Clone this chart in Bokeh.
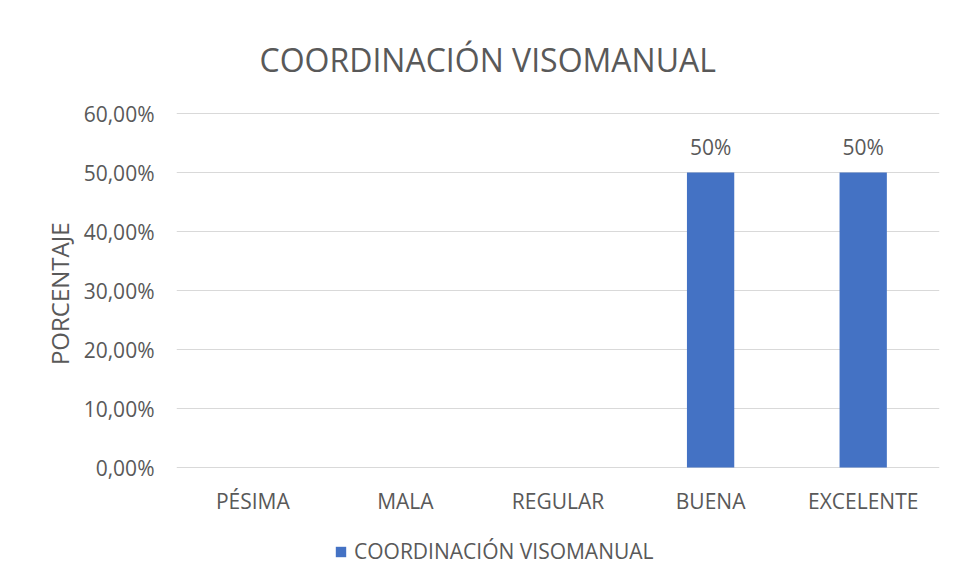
from bokeh.plotting import figure
from bokeh.models import (FactorRange, Range1d, FixedTicker, Legend, LegendItem,
                          ColumnDataSource, Title)
from bokeh.core.properties import value
from bokeh.embed import file_html
from bokeh.resources import INLINE

# ---- data ----
categories = ["PÉSIMA", "MALA", "REGULAR", "BUENA", "EXCELENTE"]
percentages = [0.0, 0.0, 0.0, 0.5, 0.5]
y_ticks = [0.0, 0.1, 0.2, 0.3, 0.4, 0.5, 0.6]
y_tick_labels = ["0,00%", "10,00%", "20,00%", "30,00%", "40,00%", "50,00%", "60,00%"]
series_name = "COORDINACIÓN VISOMANUAL"
chart_title = "COORDINACIÓN VISOMANUAL"
y_axis_title = "PORCENTAJE"

FONT = "Open Sans"
TXT = "#595959"
GRID = "#d9d9d9"
BAR = "#4472C4"

# frame extends below the value axis so the legend can live inside it
PX = 0.1 / 59.0
Y_END = 0.6 + 1 * PX
Y_START = Y_END - 458 * PX

p = figure(
    x_range=FactorRange(*categories, range_padding=0),
    y_range=Range1d(Y_START, Y_END),
    width=947, height=574,
    output_backend="svg", toolbar_location=None,
    x_axis_location=None,
    min_border_left=176, min_border_right=8,
    min_border_top=112, min_border_bottom=4,
)
p.outline_line_color = None
p.background_fill_color = "white"
p.border_fill_color = "white"

p.title.text = chart_title
p.title.align = "left"
p.title.offset = 83
p.title.vertical_align = "middle"
p.title.standoff = 62
p.title.text_font = FONT
p.title.text_font_size = "32px"
p.title.text_font_style = "normal"
p.title.text_color = TXT

src = ColumnDataSource(dict(cat=categories, val=percentages))
bars = p.vbar(x="cat", top="val", width=0.31, source=src,
              fill_color=BAR, line_color=None)

# data labels (only non-zero values shown)
lab_cats = [c for c, v in zip(categories, percentages) if v > 0]
lab_vals = [v for v in percentages if v > 0]
lab_txt = [f"{round(v * 100)}%" for v in lab_vals]
p.text(x=lab_cats, y=lab_vals, text=lab_txt, text_align="center",
       text_baseline="middle", y_offset=-26, text_font=value(FONT),
       text_font_size="21px", text_color=TXT)

# category labels under the value-axis baseline
p.text(x=categories, y=[0.0] * len(categories), text=categories,
       text_align="center", text_baseline="middle", y_offset=33,
       text_font=value(FONT), text_font_size="21px", text_color=TXT)

# y axis
p.yaxis.ticker = FixedTicker(ticks=y_ticks)
p.yaxis.major_label_overrides = {t: l for t, l in zip(y_ticks, y_tick_labels)}
ax = p.yaxis[0]
ax.axis_line_color = None
ax.major_tick_line_color = None
ax.minor_tick_line_color = None
ax.major_label_text_font = FONT
ax.major_label_text_font_size = "21px"
ax.major_label_text_color = TXT
ax.major_label_standoff = 16

p.add_layout(Title(text=y_axis_title, align="right", offset=110,
                   text_font=FONT, text_font_size="24px",
                   text_font_style="normal", text_color=TXT, standoff=10),
             "left")

p.xgrid.grid_line_color = None
p.ygrid.grid_line_color = GRID
p.ygrid.grid_line_width = 1

legend = Legend(items=[LegendItem(label=series_name, renderers=[bars])],
                orientation="horizontal", location=(158, 5),
                label_text_font=FONT, label_text_font_size="21px",
                label_text_color=TXT, glyph_width=13, glyph_height=13,
                label_standoff=7, border_line_color=None,
                background_fill_alpha=0, padding=0, margin=0)
p.add_layout(legend)

open("out.html", "w").write(file_html(p, INLINE))
